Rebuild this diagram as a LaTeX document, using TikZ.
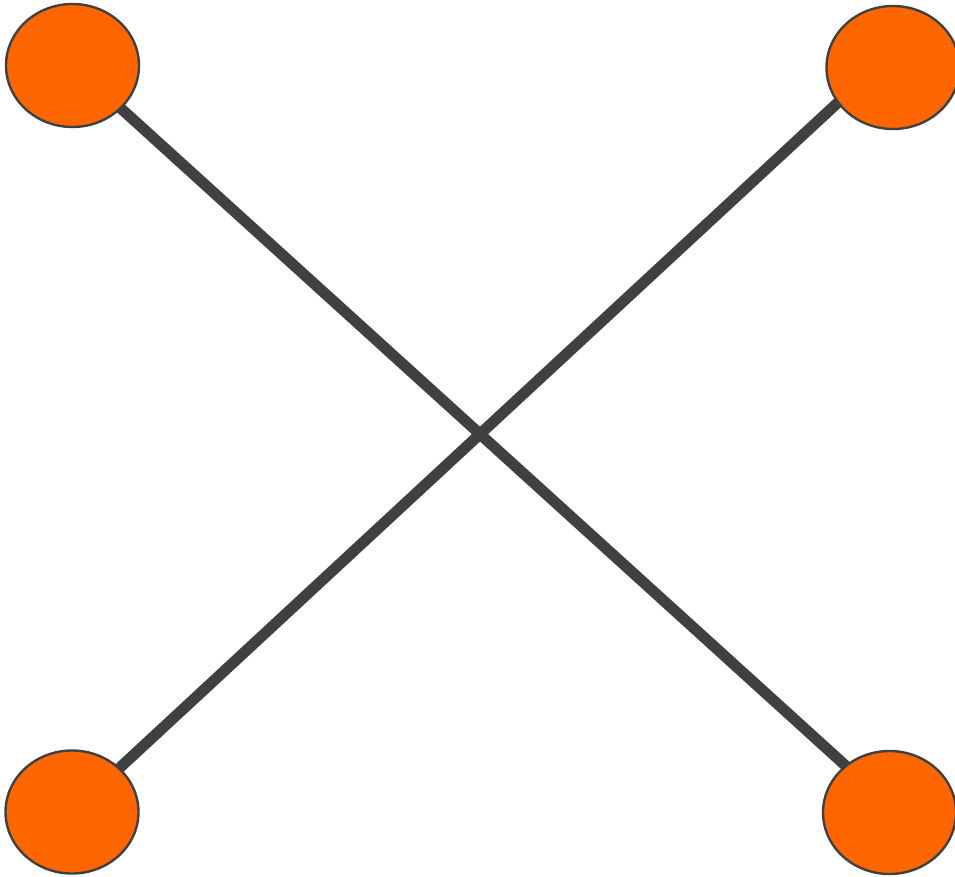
\documentclass[tikz,border=0pt]{standalone}
\usetikzlibrary{shapes.geometric, backgrounds}
\definecolor{crossOrange}{HTML}{FF6600}
\definecolor{crossGray}{HTML}{404040}
\tikzset{
  endpoint/.style={ellipse, draw=crossGray, fill=crossOrange, line width=2.4pt,
    minimum width=133pt, minimum height=123pt, inner sep=0pt},
  crossline/.style={draw=crossGray, line width=11pt}
}
\begin{document}
\begin{tikzpicture}[x=1pt, y=-1pt]
% Page frame
\useasboundingbox (0,0) rectangle (955,877);
% Corner ellipses
\node[endpoint] (tl) at (72.5,65.5) {};
\node[endpoint] (tr) at (893,67.5) {};
\node[endpoint] (bl) at (72,812) {};
\node[endpoint] (br) at (889.5,812.5) {};
% Crossing lines, behind the ellipses
\begin{pgfonlayer}{background}
  \draw[crossline] ([yshift=1pt]tl.center) -- ([yshift=7pt]br.center);
  \draw[crossline] (bl.center) -- ([yshift=16pt]tr.center);
\end{pgfonlayer}
\end{tikzpicture}
\end{document}
